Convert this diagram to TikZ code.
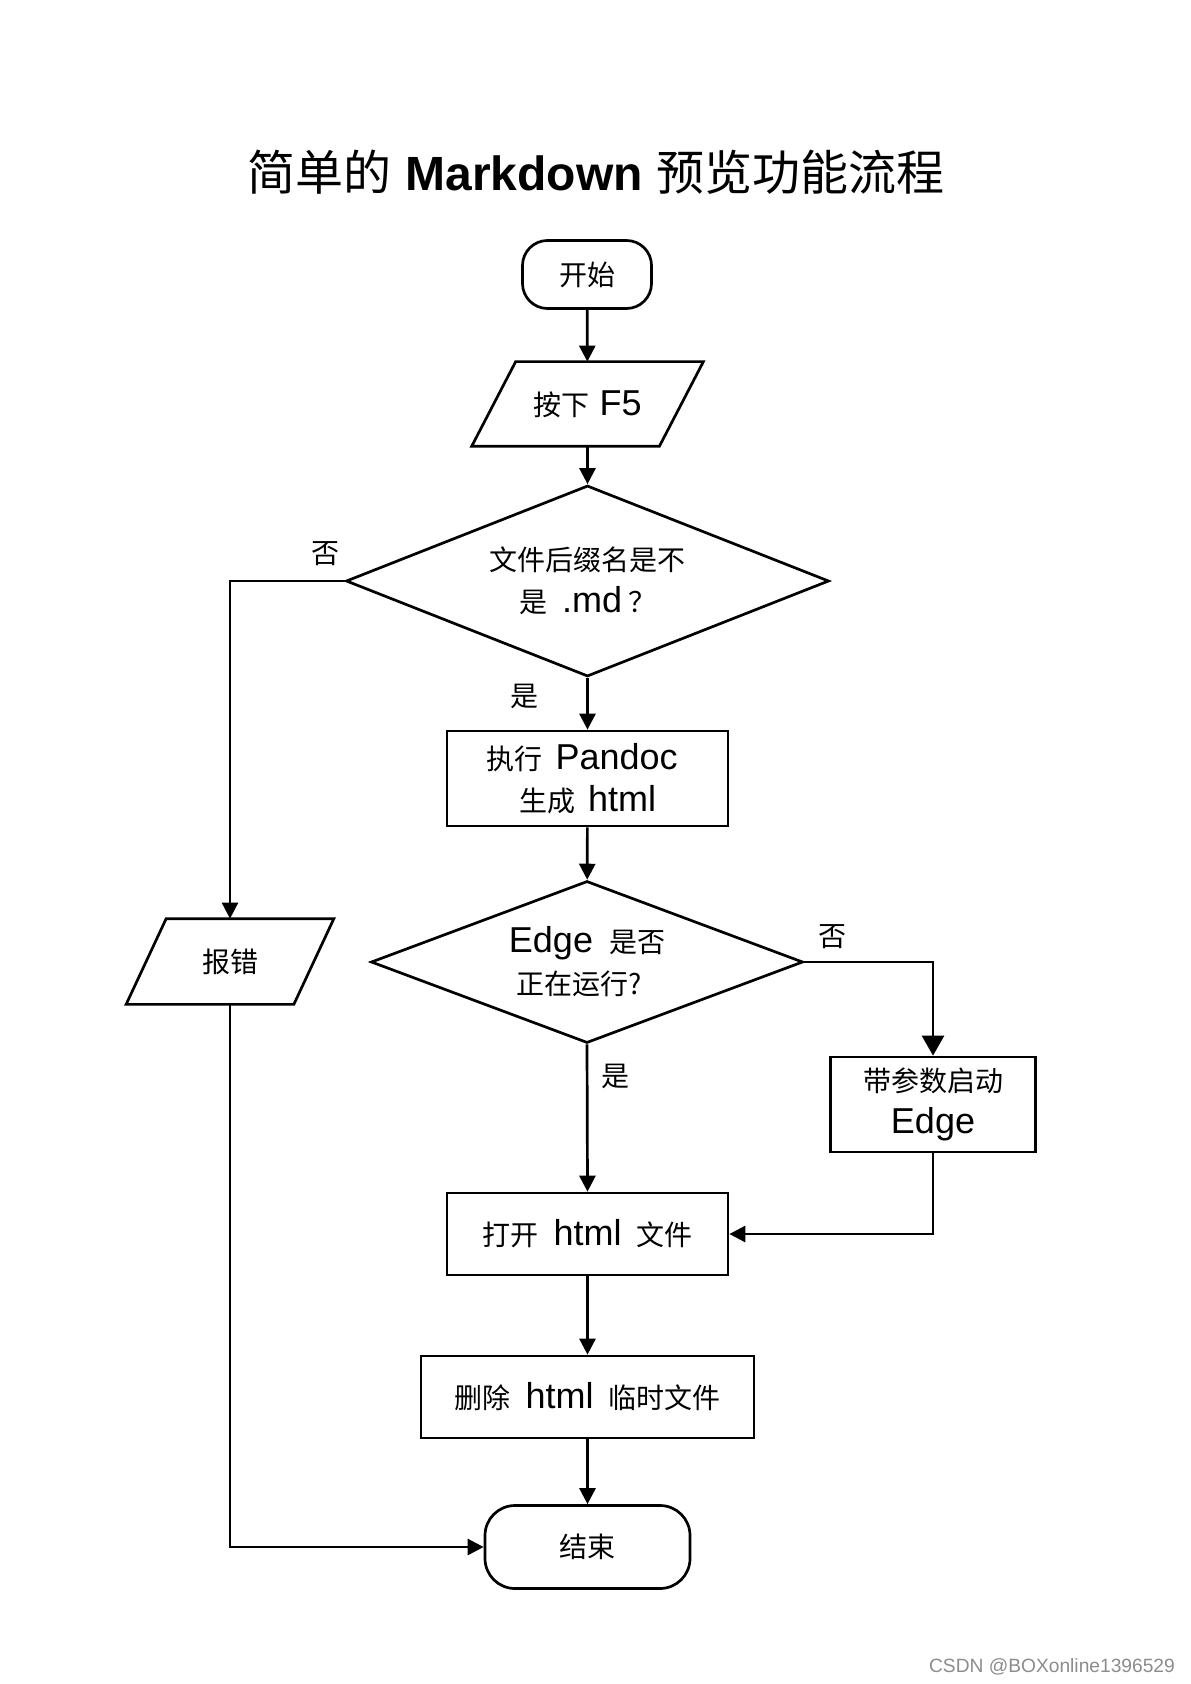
\documentclass[tikz,border=0pt]{standalone}
\usepackage{fontspec}
\setmainfont{Liberation Sans}
\newfontfamily\cjk{Noto Sans CJK SC}
\usetikzlibrary{shapes.geometric,arrows.meta}
\newcommand\zhf{\cjk\fontsize{14}{21}\selectfont}
\newcommand\zh[1]{{\zhf #1}}
\newcommand\gp{\hspace{7.5pt}}
\tikzset{
  base/.style={draw, line width=1.35pt, font=\fontsize{18}{21}\selectfont, align=center, inner sep=0pt},
  term/.style={base, rectangle, rounded corners=13pt},
  proc/.style={base, rectangle},
  io/.style={font=\fontsize{18}{21}\selectfont, align=center, inner sep=0pt, rectangle, outer sep=0.675pt},
  dec/.style={base, diamond},
  conn/.style={line width=1.35pt, -{Triangle[length=8pt,width=8pt]}},
  lbl/.style={font=\zhf, inner sep=0pt},
  para/.style={line width=1.35pt}
}
\begin{document}
\begin{tikzpicture}[x=0.5pt,y=-0.5pt]
\useasboundingbox[fill=white] (0,0) rectangle (1190,1684);
\node (title) at (596,172) {\fontsize{24}{28}\selectfont{\cjk 简单的} \textbf{Markdown} {\cjk 预览功能流程}};
\node[term, minimum width=64.5pt, minimum height=34pt, rounded corners=12.5pt] (start) at (587,274.5) {\zh{开始}};
\node[io, minimum width=92.5pt, minimum height=41pt] (f5) at (587.5,404) {\zh{按下} F5};
\draw[para] ([xshift=-11pt]f5.south west) -- ([xshift=11pt]f5.north west) -- ([xshift=11pt]f5.north east) -- ([xshift=-11pt]f5.south east) -- cycle;
\node[dec, minimum width=241.5pt, minimum height=95.5pt, shape aspect=2.53] (d1) at (587.5,581) {\zh{文件后缀名是不}\\\zh{是}\gp.md\hspace{3pt}\zh{？}};
\node[proc, minimum width=140.5pt, minimum height=47.5pt] (pandoc) at (587.5,778.5) {\zh{执行}\hspace{6.5pt}Pandoc\hspace*{5.4pt}\\\zh{生成}\hspace{6.5pt}html};
\node[dec, minimum width=216pt, minimum height=81pt, shape aspect=2.67] (d2) at (587,962) {Edge\hspace{8pt}\zh{是否}\\\zh{正在运行?}\hspace*{7.5pt}};
\node[io, minimum width=82.5pt, minimum height=41.5pt] (err) at (230,961.5) {\zh{报错}};
\draw[para] ([xshift=-10pt]err.south west) -- ([xshift=10pt]err.north west) -- ([xshift=10pt]err.north east) -- ([xshift=-10pt]err.south east) -- cycle;
\node[proc, minimum width=102.5pt, minimum height=47.5pt] (edge) at (933,1104.5) {\zh{带参数启动}\\Edge};
\node[proc, minimum width=140.5pt, minimum height=41pt] (open) at (587.5,1234) {\zh{打开}\gp html\gp\zh{文件}};
\node[proc, minimum width=166.5pt, minimum height=41pt] (del) at (587.5,1397) {\zh{删除}\gp html\gp\zh{临时文件}};
\node[term, minimum width=102.5pt, minimum height=41.5pt, rounded corners=15pt] (end) at (587.5,1547) {\zh{结束}};
\draw[conn] (start) -- (f5);
\draw[conn] (f5) -- (d1);
\draw[conn] (d1.west) -| (err.north);
\draw[conn] (d1.south) -- (pandoc.north);
\draw[conn] (pandoc) -- (d2);
\draw[conn, -{Triangle[length=10pt,width=11pt]}] (d2.east) -| (edge.north);
\draw[conn] (d2.south) -- (open.north);
\draw[conn] (edge.south) |- (open.east);
\draw[conn] (open) -- (del);
\draw[conn] (del) -- (end);
\draw[conn] (err.south) |- (end.west);
\node[lbl] (l1) at (325.5,554) {否};
\node[lbl] (l2) at (524,696) {是};
\node[lbl] (l3) at (832,936.5) {否};
\node[lbl] (l4) at (615,1076) {是};
\node[text=black!45, font=\fontsize{9.6}{11}\selectfont] (wm) at (1052,1667) {CSDN @BOXonline1396529};
\end{tikzpicture}
\end{document}
